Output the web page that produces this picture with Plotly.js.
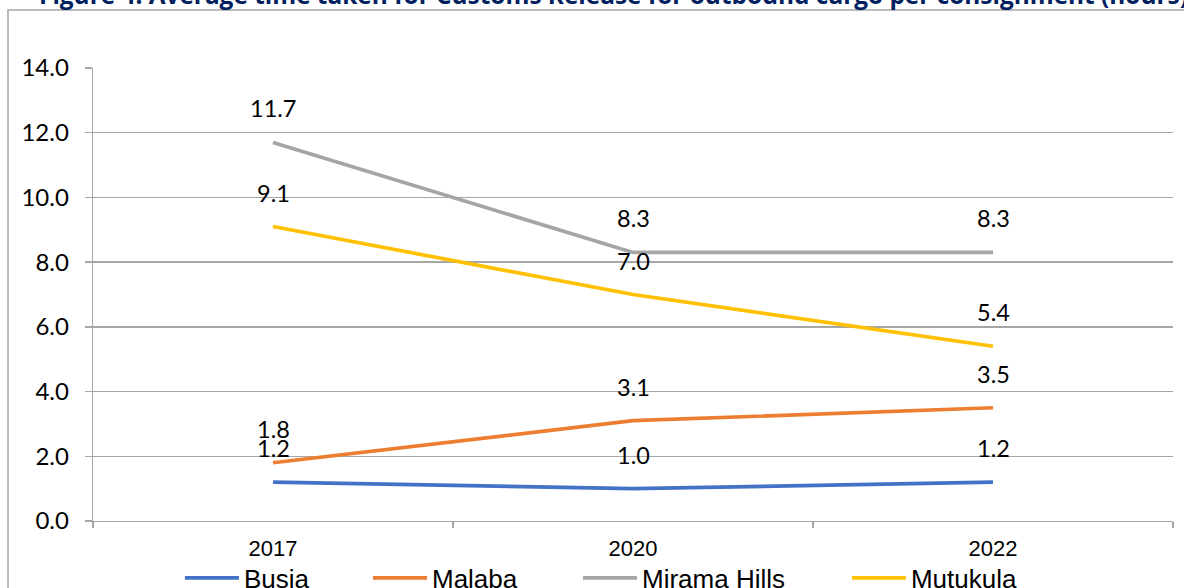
<!DOCTYPE html>
<html>
<head>
<meta charset="utf-8">
<script src="https://cdn.plot.ly/plotly-3.0.1.min.js"></script>
<style>
  html, body { margin: 0; padding: 0; background: #ffffff; }
  #chart { width: 1184px; height: 588px; }
</style>
</head>
<body>
<div id="chart"></div>
<script>
// Average customs release time for outbound cargo, hours per consignment
const years = ['2017', '2020', '2022'];
const busia = [1.2, 1.0, 1.2];
const malaba = [1.8, 3.1, 3.5];
const miramaHills = [11.7, 8.3, 8.3];
const mutukula = [9.1, 7.0, 5.4];

const seriesNames = ['Busia', 'Malaba', 'Mirama Hills', 'Mutukula'];
const seriesValues = [busia, malaba, miramaHills, mutukula];
const seriesColors = ['#4472C4', '#ED7D31', '#A5A5A5', '#FFC000'];

const titleText = 'Figure 4: Average time taken for Customs Release for outbound cargo per consignment (hours)';

const labelFont = { family: 'Lato, "Open Sans", sans-serif', size: 23.5, color: '#000000' };
const tickFontX = { family: '"Liberation Sans", Arial, sans-serif', size: 22, color: '#000000' };
const legendFont = { family: '"Liberation Sans", Arial, sans-serif', size: 26, color: '#000000' };

// one legend per series so each key sits at its own spot along the bottom
const legendIds = ['legend', 'legend2', 'legend3', 'legend4'];
const legendX = [0.0805, 0.2546, 0.4491, 0.6981];

const traces = seriesNames.map((name, i) => ({
  type: 'scatter',
  mode: 'lines',
  name: name,
  x: years,
  y: seriesValues[i],
  line: { color: seriesColors[i], width: 3.7 },
  legend: legendIds[i],
  hoverinfo: 'x+y+name'
}));

// value labels sit above each point (x given as category index)
const annotations = [];
seriesValues.forEach((vals) => {
  vals.forEach((v, j) => {
    annotations.push({
      x: j, y: v, xref: 'x', yref: 'y',
      text: v.toFixed(1), showarrow: false,
      yshift: 34, font: labelFont
    });
  });
});

// chart heading, partly outside the top edge
annotations.push({
  xref: 'paper', yref: 'paper',
  x: -0.052, y: 1.1225, xanchor: 'left', yanchor: 'bottom',
  text: '<b>' + titleText + '</b>', showarrow: false,
  font: { family: '"Open Sans", sans-serif', size: 24.4, color: '#002060' }
});

const layout = {
  width: 1184, height: 588,
  margin: { l: 93, r: 11, t: 68, b: 67, autoexpand: false },
  paper_bgcolor: '#ffffff',
  plot_bgcolor: '#ffffff',
  showlegend: true,
  xaxis: {
    type: 'category',
    range: [-0.5, 2.5],
    tickson: 'boundaries',
    ticks: 'outside', ticklen: 6, tickcolor: '#A6A6A6', tickwidth: 1.3,
    showgrid: false, showline: true, linecolor: '#A6A6A6', linewidth: 1.3,
    tickfont: tickFontX, tickangle: 0,
    ticklabelstandoff: 7,
    automargin: false,
    fixedrange: true
  },
  yaxis: {
    range: [0, 14], dtick: 2, tick0: 0, tickformat: '.1f',
    ticks: 'outside', ticklen: 7, tickcolor: '#A6A6A6', tickwidth: 1.3,
    showgrid: true, gridcolor: '#A6A6A6', gridwidth: 1.3,
    zeroline: false, showline: true, linecolor: '#A6A6A6', linewidth: 1.3,
    tickfont: { family: 'Lato, "Open Sans", sans-serif', size: 24, color: '#000000' },
    ticklabelstandoff: 11,
    automargin: false,
    fixedrange: true
  },
  annotations: annotations,
  shapes: [{
    type: 'rect', xref: 'paper', yref: 'paper',
    x0: -0.0787, x1: 1.05, y0: -0.3, y1: 1.128,
    line: { color: '#A6A6A6', width: 1.5 }, fillcolor: 'rgba(0,0,0,0)',
    layer: 'below'
  }]
};

legendIds.forEach((id, i) => {
  layout[id] = {
    orientation: 'h', x: legendX[i], xanchor: 'left',
    yref: 'container', y: 0.017, yanchor: 'middle',
    font: legendFont, itemwidth: 54,
    bgcolor: 'rgba(0,0,0,0)', borderwidth: 0
  };
});

Plotly.newPlot('chart', traces, layout, { displayModeBar: false, staticPlot: true });
</script>
</body>
</html>
